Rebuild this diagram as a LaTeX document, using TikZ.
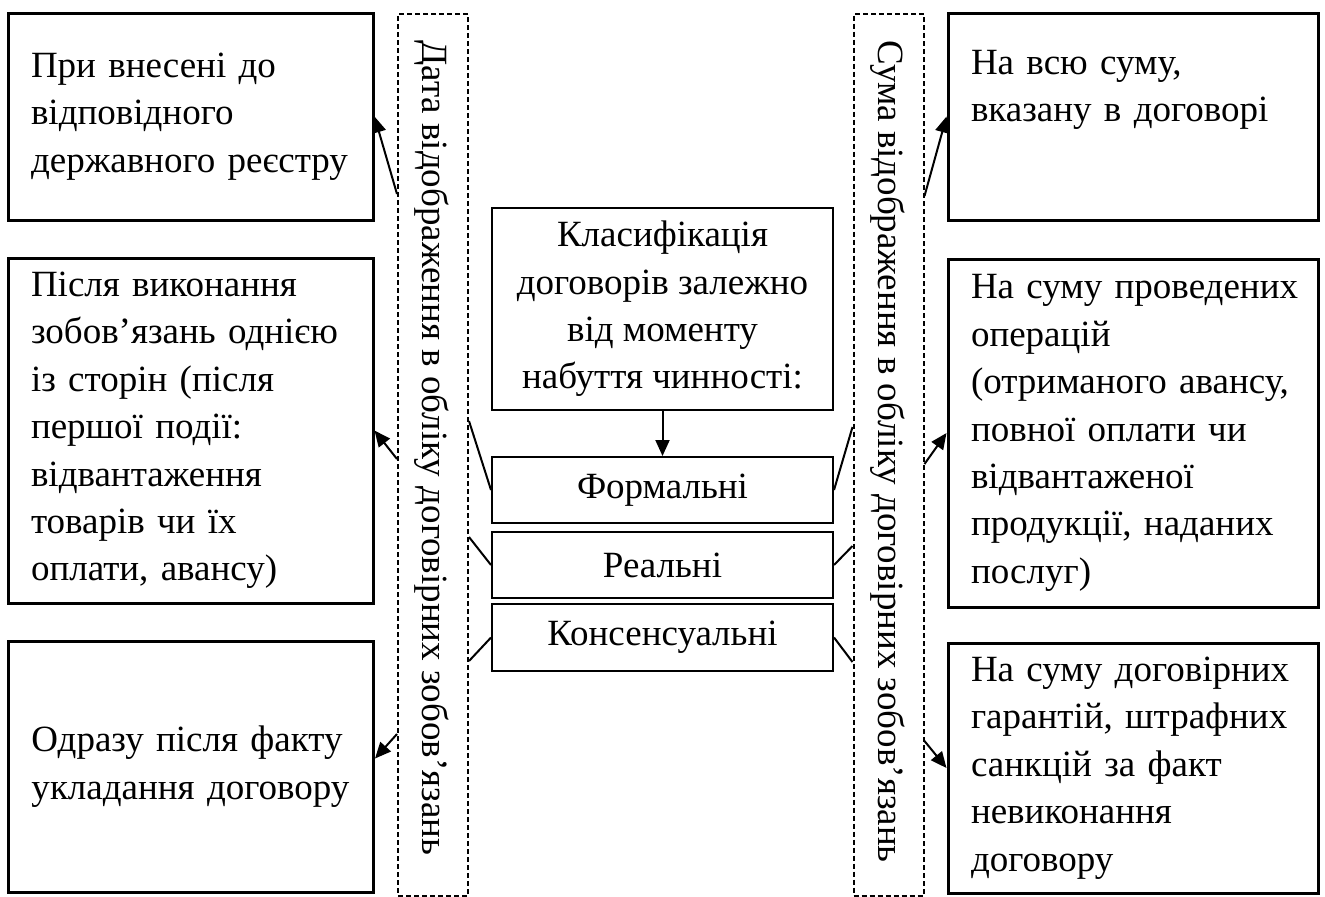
\documentclass[tikz,border=0pt]{standalone}
\usepackage{fontspec}
\setmainfont{Liberation Serif}
\usetikzlibrary{arrows.meta,calc}
\begin{document}
\begin{tikzpicture}[x=0.5pt,y=-0.5pt,
  txt/.style={font=\fontsize{18.5pt}{23.7pt}\selectfont},
  bigbox/.style={draw, line width=1.5pt, rectangle, inner xsep=11.5pt, inner ysep=0pt, align=left, txt},
  lbox/.style={bigbox, text width=159.5pt},
  rbox/.style={bigbox, text width=162pt},
  midbox/.style={draw, line width=1pt, rectangle, inner sep=0pt, minimum width=170.5pt, align=center, txt},
  dashbox/.style={draw, line width=1pt, dash pattern=on 2.5pt off 1.5pt, rectangle, inner sep=0pt, minimum width=35pt, minimum height=441pt},
  con/.style={line width=1pt},
  arr/.style={line width=1pt, -{Triangle[length=8pt,width=7pt]}}
]
\useasboundingbox (0,0) rectangle (1325,896);

% left boxes
\node[lbox, minimum height=103.5pt] (L1) at (190.5,116.5) {При~внесені~до\\відповідного\\державного~реєстру};
\node[lbox, minimum height=172.5pt] (L2) at (190.5,430.5) {Після~виконання\\зобов’язань~однією\\із~сторін~(після\\першої~події:\\відвантаження\\товарів~чи~їх\\оплати,~авансу)};
\node[lbox, minimum height=125.5pt] (L3) at (191,766.5) {Одразу~після~факту\\укладання~договору};

% right boxes
\node[rbox, minimum height=103.5pt] (R1) at (1133,116.5) {На~всю~суму,\\вказану~в~договорі\\\strut};
\node[rbox, minimum height=174pt] (R2) at (1133,433) {На~суму~проведених\\операцій\\(отриманого~авансу,\\повної~оплати~чи\\відвантаженої\\продукції,~наданих\\послуг)};
\node[rbox, minimum height=125pt] (R3) at (1133,768) {На~суму~договірних\\гарантій,~штрафних\\санкцій~за~факт\\невиконання\\договору};

% dashed boxes
\node[dashbox] (dashL) at (433,455) {};
\node[txt, rotate=-90, anchor=west, inner sep=0pt] (dashLt) at (432,40) {Дата відображення в обліку договірних зобов’язань};
\node[dashbox] (dashR) at (888.5,454.5) {};
\node[txt, rotate=-90, anchor=west, inner sep=0pt] (dashRt) at (888,40) {Сума відображення в обліку договірних зобов’язань};

% centre
\node[midbox, minimum height=101pt] (top) at (662.5,309) {Класифікація\\договорів залежно\\від моменту\\набуття чинності:};
\node[midbox, minimum height=33pt] (formal) at (662.5,490) {Формальні};
\node[midbox, minimum height=33pt] (real) at (662.5,565) {Реальні};
\node[midbox, minimum height=33.5pt] (kons) at (662.5,637.5) {Консенсуальні};

\draw[arr] (top.south) -- (formal.north);

% centre to dashed boxes
\draw[con] (formal.west) -- ($(dashL.north east)+(0,408)$);
\draw[con] (real.west) -- ($(dashL.north east)+(0,524)$);
\draw[con] (kons.west) -- ($(dashL.north east)+(0,648)$);
\draw[con] (formal.east) -- ($(dashR.north west)+(0,414.5)$);
\draw[con] (real.east) -- ($(dashR.north west)+(0,533.5)$);
\draw[con] (kons.east) -- ($(dashR.north west)+(0,649.5)$);

% dashed boxes to outer boxes
\draw[arr] ($(dashL.north west)+(0,181)$) -- (L1.east);
\draw[arr] ($(dashL.north west)+(0,446)$) -- (L2.east);
\draw[arr] ($(dashL.north west)+(0,721)$) -- ($(L3.east)+(0,-8)$);
\draw[arr] ($(dashR.north east)+(0,183.5)$) -- (R1.west);
\draw[arr] ($(dashR.north east)+(0,451.5)$) -- (R2.west);
\draw[arr] ($(dashR.north east)+(0,728.5)$) -- (R3.west);
\end{tikzpicture}
\end{document}
